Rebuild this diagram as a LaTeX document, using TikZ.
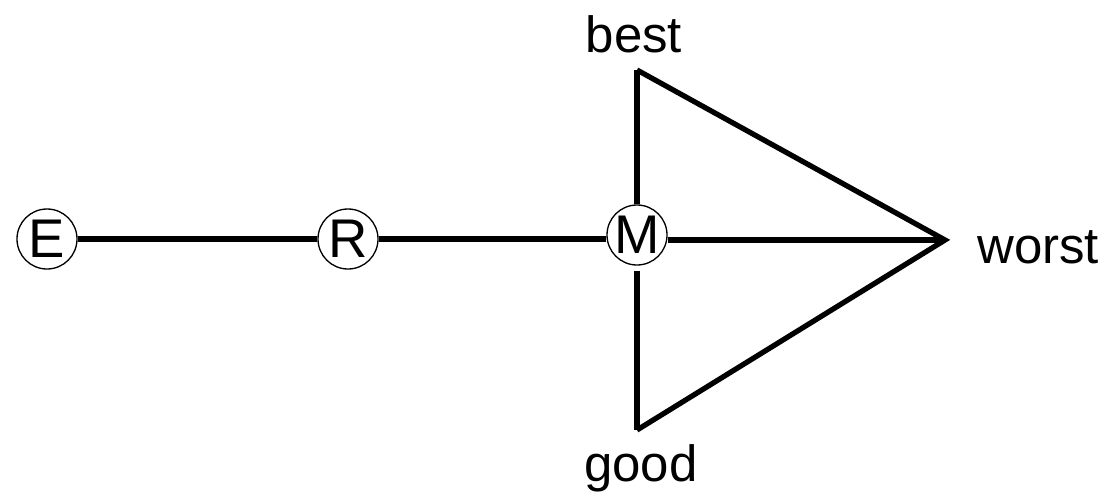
\documentclass[tikz,border=0pt]{standalone}
\usepackage{fontspec}
\setmainfont{Liberation Sans}
\begin{document}
\begin{tikzpicture}[stage/.style={circle,draw,line width=0.75pt,minimum size=1.2cm,inner sep=0pt,font=\fontsize{31}{36}\selectfont},
    tag/.style={font=\fontsize{29}{34}\selectfont,anchor=base},
    link/.style={line width=3pt}]
    \useasboundingbox (0,0) rectangle (22.12,-9.84);

    \node[stage] (E) at (0.94,-4.78) {E};
    \node[stage] (R) at (6.96,-4.78) {R};
    \node[stage] (M) at (12.74,-4.7) {M};
    \coordinate (b) at (12.74,-1.4);
    \coordinate (g) at (12.74,-8.6);
    \coordinate (w) at (18.9,-4.8);

    \node[tag] (best) at (12.68,-1.04) {best};
    \node[tag] (good) at (12.82,-9.62) {good};
    \node[tag,anchor=base west] (worst) at (19.42,-5.26) {worst};

    \draw[link] (E) -- (R);
    \draw[link] (R) -- (M.west |- R);
    \draw[link] (M.east |- w) -- (w);
    \draw[link] (b) -- (w) -- (g);
    \draw[link] (b) -- (M);
    \draw[link,shorten <=0.1cm] (M) -- (g);
\end{tikzpicture}
\end{document}
